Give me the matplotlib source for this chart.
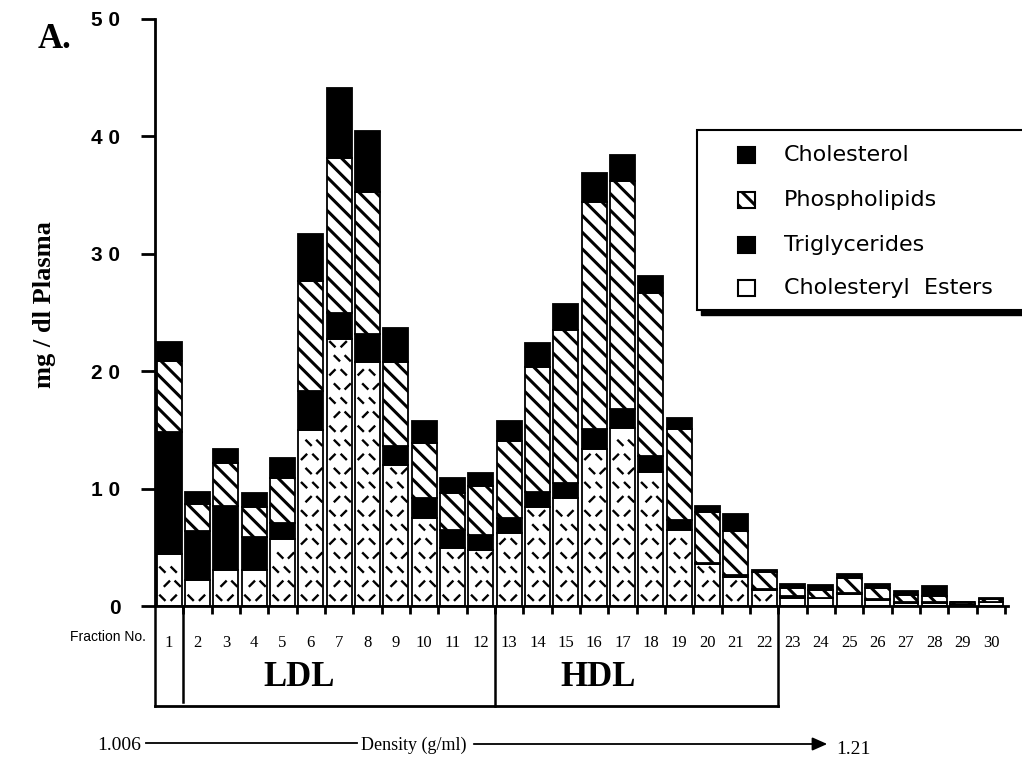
import numpy as np
import matplotlib
matplotlib.use("Agg")
import matplotlib.pyplot as plt
from matplotlib.patches import Rectangle
from matplotlib.path import Path

# stacked lipid composition per density fraction (mg/dl plasma)
fractions = list(range(1, 31))
chol_esters = [4.4, 2.2, 3.1, 3.1, 5.7, 15.0, 22.75, 20.75, 12.05, 7.5,
               4.9, 4.75, 6.2, 8.4, 9.2, 13.4, 15.2, 11.45, 6.45, 3.6,
               2.45, 1.4, 0.7, 0.65, 1.0, 0.55, 0.25, 0.25, 0.15, 0.3]
triglycerides = [10.4, 4.2, 5.4, 2.75, 1.35, 3.35, 2.25, 2.45, 1.55, 1.7,
                 1.6, 1.3, 1.3, 1.35, 1.3, 1.7, 1.55, 1.35, 0.85, 0.1,
                 0.2, 0.05, 0.15, 0.05, 0.1, 0.05, 0.05, 0.05, 0.05, 0.05]
phospholipids = [6.1, 2.3, 3.65, 2.6, 3.85, 9.35, 13.2, 12.1, 7.2, 4.7,
                 3.15, 4.2, 6.55, 10.65, 13.05, 19.3, 19.45, 13.9, 7.75, 4.3,
                 3.7, 1.45, 0.65, 0.7, 1.25, 0.95, 0.65, 0.55, 0.1, 0.25]
cholesterol = [1.6, 1.0, 1.25, 1.2, 1.7, 4.0, 5.9, 5.2, 2.9, 1.85,
               1.25, 1.1, 1.7, 2.0, 2.15, 2.5, 2.2, 1.4, 1.0, 0.5,
               1.5, 0.2, 0.4, 0.4, 0.4, 0.3, 0.3, 0.85, 0.05, 0.1]
legend_labels = ["Cholesterol", "Phospholipids", "Triglycerides", "Cholesteryl  Esters"]
yticks = [0, 10, 20, 30, 40, 50]

W, H = 1022, 758
plt.rcParams["hatch.linewidth"] = 2.2
HATCH = "\\\\"


def fx(px):
    return px / W


def fy(py):
    return 1 - py / H


fig = plt.figure(figsize=(W / 100, H / 100), dpi=100)
ax = fig.add_axes([fx(155), fy(606), (1008 - 155) / W, (606 - 19) / H])

x = np.array(fractions, dtype=float)
ce = np.array(chol_esters)
tg = np.array(triglycerides)
pl = np.array(phospholipids)
ch = np.array(cholesterol)
bw = 0.88

ax.bar(x, ce, bw, color="white", edgecolor="black", linewidth=1.3)
ax.bar(x, tg, bw, bottom=ce, color="black", edgecolor="black", linewidth=1.3)
ax.bar(x, pl, bw, bottom=ce + tg, color="white", edgecolor="black",
       linewidth=1.3, hatch=HATCH)
ax.bar(x, ch, bw, bottom=ce + tg + pl, color="black", edgecolor="black", linewidth=1.3)

# dashed "stipple" look of the cholesteryl ester segments
dash_a = Path([(-1, -1), (1, 1)])
dash_b = Path([(-1, 1), (1, -1)])
pa, pb = [], []
for xi, top in zip(x, ce):
    row = 0
    yy = 0.7
    while yy < top - 0.4:
        offs = (-0.24, 0.16) if row % 2 == 0 else (-0.08, 0.3)
        for k, off in enumerate(offs):
            if (row + k) % 3 == 1:
                pa.append((xi + off, yy))
            else:
                pb.append((xi + off, yy))
        row += 1
        yy += 1.2
pa = np.array(pa)
pb = np.array(pb)
ax.scatter(pa[:, 0], pa[:, 1], marker=dash_a, s=20, facecolors="none",
           edgecolors="black", linewidths=1.7, zorder=3)
ax.scatter(pb[:, 0], pb[:, 1], marker=dash_b, s=20, facecolors="none",
           edgecolors="black", linewidths=1.7, zorder=3)

ax.set_xlim(0.5, 30.6)
ax.set_ylim(0, 50)
for s in ("top", "right"):
    ax.spines[s].set_visible(False)
ax.spines["left"].set_linewidth(2)
ax.spines["bottom"].set_linewidth(2)

ax.set_yticks(yticks)
ax.set_yticklabels([" ".join(str(v)) for v in yticks],
                   fontfamily="Liberation Sans", fontweight="bold", fontsize=15)
ax.tick_params(axis="y", length=10, width=2, pad=15)

ax.set_xticks(np.arange(1.5, 31, 1.0))
ax.set_xticklabels([])
ax.tick_params(axis="x", which="major", length=6, width=2, direction="out")
ax.set_xticks(x, minor=True)
ax.set_xticklabels([str(f) for f in fractions], minor=True,
                   fontfamily="Liberation Serif", fontsize=12)
ax.tick_params(axis="x", which="minor", length=0, pad=21)

# LDL / HDL box under the axis
yb = -(706 - 606) / 11.74
for xv, ylow in [(0.5, yb), (1.5, -(702 - 606) / 11.74), (12.5, yb), (22.5, yb)]:
    ax.plot([xv, xv], [0, ylow], color="black", lw=1.8, clip_on=False)
ax.plot([0.5, 22.5], [yb, yb], color="black", lw=2, clip_on=False)

fig.text(fx(299), fy(678), "LDL", fontfamily="Liberation Serif", fontweight="bold",
         fontsize=25, ha="center", va="center")
fig.text(fx(598), fy(677), "HDL", fontfamily="Liberation Serif", fontweight="bold",
         fontsize=25, ha="center", va="center")
fig.text(fx(146), fy(637), "Fraction No.", fontfamily="Liberation Sans",
         fontsize=10, ha="right", va="center")

fig.text(fx(55), fy(40), "A.", fontfamily="Liberation Serif", fontweight="bold",
         fontsize=25, ha="center", va="center")
fig.text(fx(45), fy(305), "mg / dl Plasma", fontfamily="Liberation Serif",
         fontweight="bold", fontsize=19, rotation=90, ha="center", va="center")

# density arrow
fig.text(fx(141), fy(745), "1.006", fontfamily="Liberation Serif", fontsize=14,
         ha="right", va="center")
fig.add_artist(plt.Line2D([fx(146), fx(357)], [fy(743), fy(743)], color="black", lw=1.3))
fig.text(fx(414), fy(745), "Density (g/ml)", fontfamily="Liberation Serif", fontsize=13,
         ha="center", va="center")
fig.add_artist(matplotlib.patches.FancyArrowPatch(
    (fx(471), fy(744)), (fx(830), fy(744)), transform=fig.transFigure,
    arrowstyle="-|>,head_length=9,head_width=4", mutation_scale=1,
    color="black", lw=1.3))
fig.text(fx(836), fy(749), "1.21", fontfamily="Liberation Serif", fontsize=14,
         ha="left", va="center")

# legend box with drop shadow
lx0, ly0, lx1, ly1 = 697, 130, 1040, 310
fig.add_artist(Rectangle((fx(lx0 + 4), fy(ly1 + 5)), (lx1 - lx0) / W, (ly1 - ly0) / H,
                         transform=fig.transFigure, facecolor="black", edgecolor="black"))
fig.add_artist(Rectangle((fx(lx0), fy(ly1)), (lx1 - lx0) / W, (ly1 - ly0) / H,
                         transform=fig.transFigure, facecolor="white", edgecolor="black", lw=1.5))
row_y = [155, 200, 245, 288]
styles = [dict(facecolor="black"), dict(facecolor="white", hatch=HATCH),
          dict(facecolor="black"), dict(facecolor="white")]
for ry, lab, st in zip(row_y, legend_labels, styles):
    fig.add_artist(Rectangle((fx(738), fy(ry + 8)), 17 / W, 16 / H,
                             transform=fig.transFigure, edgecolor="black", lw=1.5, **st))
    fig.text(fx(784), fy(ry), lab, fontfamily="DejaVu Sans", fontsize=16,
             ha="left", va="center")

fig.savefig("out.png", dpi=100)
